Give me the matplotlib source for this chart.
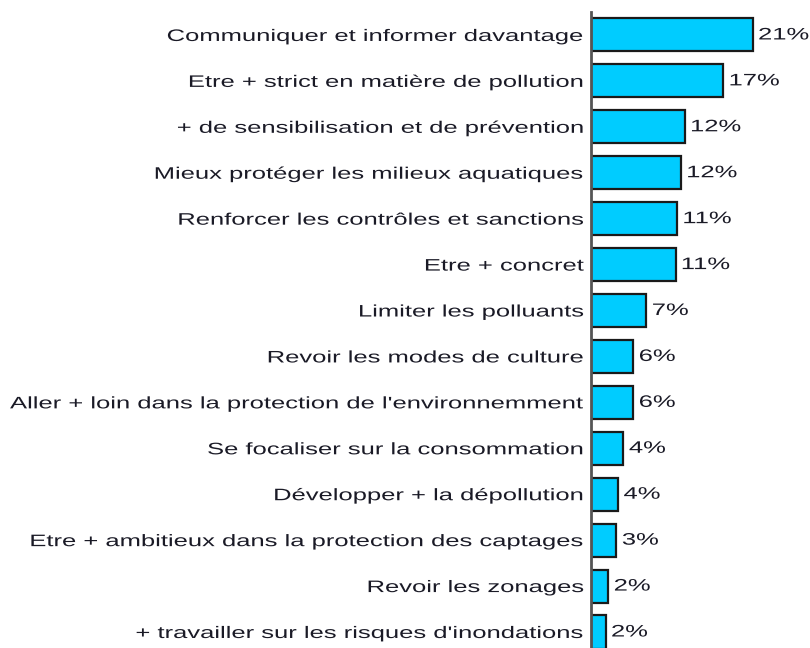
import matplotlib
matplotlib.use("Agg")
import matplotlib.pyplot as plt
import matplotlib.patheffects as pe
from matplotlib.transforms import Affine2D

categories = [
    "Communiquer et informer davantage",
    "Etre + strict en matière de pollution",
    "+ de sensibilisation et de prévention",
    "Mieux protéger les milieux aquatiques",
    "Renforcer les contrôles et sanctions",
    "Etre + concret",
    "Limiter les polluants",
    "Revoir les modes de culture",
    "Aller + loin dans la protection de l'environnemment",
    "Se focaliser sur la consommation",
    "Développer + la dépollution",
    "Etre + ambitieux dans la protection des captages",
    "Revoir les zonages",
    "+ travailler sur les risques d'inondations",
]
values = [21.0, 17.2, 12.2, 11.7, 11.2, 11.0, 7.2, 5.5, 5.5, 4.2, 3.5, 3.3, 2.25, 1.9]
pct_labels = ["21%", "17%", "12%", "12%", "11%", "11%", "7%", "6%", "6%",
              "4%", "4%", "3%", "2%", "2%"]


# the source text is drawn wide, so stretch glyphs sideways around one edge
class Stretch(pe.AbstractPathEffect):
    def __init__(self, sx, anchor="left"):
        super().__init__()
        self.sx = sx
        self.anchor = anchor

    def draw_path(self, renderer, gc, tpath, affine, rgbFace=None):
        bb = tpath.get_extents(affine)
        x0 = bb.x1 if self.anchor == "right" else bb.x0
        t = affine + Affine2D().translate(-x0, 0).scale(self.sx, 1).translate(x0, 0)
        renderer.draw_path(gc, tpath, t, rgbFace)


plt.rcParams['font.family'] = ['Liberation Sans', 'DejaVu Sans']
txt_color = "#1a1a26"
sx = 1.535

fig = plt.figure(figsize=(8.1, 6.48), dpi=100)
ax = fig.add_axes([591 / 810, 0, 1 - 591 / 810, 1 - 12 / 648])

y = list(range(len(categories)))
ax.barh(y, values, height=0.72, color="#00CCFF", edgecolor="#1a1a1a", linewidth=1.6)

for yi, v, lab in zip(y, values, pct_labels):
    ax.text(v + 0.75, yi, lab, va="center", ha="left", fontsize=12, color=txt_color,
            path_effects=[Stretch(sx, "left")])

ax.set_yticks(y)
ax.set_yticklabels(categories, fontsize=12, color=txt_color)
for t in ax.get_yticklabels():
    t.set_path_effects([Stretch(sx, "right")])
ax.tick_params(axis="y", length=0, pad=5)
ax.set_xticks([])
ax.set_xlim(0, 219 / 7.7)
ax.set_ylim(13 + 16 / 45.9, -0.5)

for s in ["top", "right", "bottom"]:
    ax.spines[s].set_visible(False)
ax.spines["left"].set_color("#555555")
ax.spines["left"].set_linewidth(2)

fig.savefig("out.png", dpi=100)
